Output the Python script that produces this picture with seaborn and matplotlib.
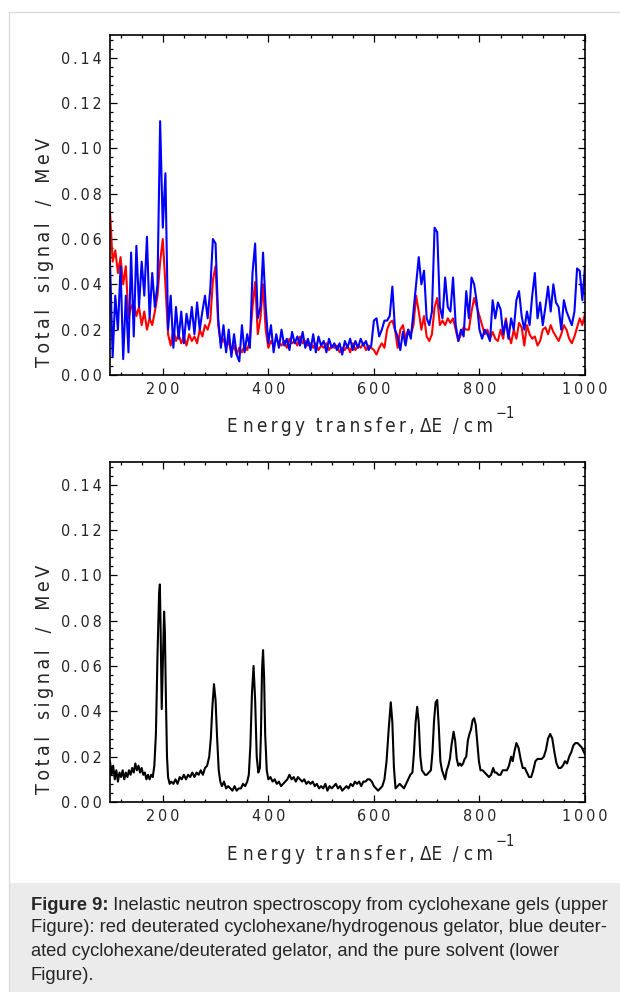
import matplotlib
matplotlib.use("Agg")
import matplotlib.pyplot as plt
import matplotlib.font_manager as fm
from matplotlib.ticker import MultipleLocator, FixedLocator
import seaborn as sns
import pandas as pd

# ---------------- data ----------------
top_x = list(range(100, 1001, 5))
red_y = [
    0.072, 0.050, 0.055, 0.045, 0.052, 0.040, 0.048, 0.025, 0.030, 0.032,
    0.026, 0.030, 0.022, 0.028, 0.020, 0.025, 0.022, 0.028, 0.035, 0.050,
    0.060, 0.040, 0.018, 0.013, 0.020, 0.015, 0.018, 0.014, 0.017, 0.013,
    0.018, 0.015, 0.017, 0.014, 0.020, 0.017, 0.022, 0.020, 0.024, 0.042,
    0.048, 0.022, 0.014, 0.016, 0.012, 0.015, 0.010, 0.013, 0.009, 0.012,
    0.010, 0.013, 0.011, 0.015, 0.030, 0.041, 0.018, 0.025, 0.040, 0.020,
    0.012, 0.015, 0.013, 0.016, 0.014, 0.013, 0.015, 0.012, 0.016, 0.014,
    0.015, 0.013, 0.017, 0.014, 0.015, 0.013, 0.014, 0.012, 0.014, 0.011,
    0.013, 0.012, 0.014, 0.011, 0.013, 0.012, 0.013, 0.010, 0.012, 0.011,
    0.013, 0.010, 0.014, 0.011, 0.013, 0.012, 0.014, 0.011, 0.013, 0.012,
    0.011, 0.009, 0.012, 0.014, 0.012, 0.020, 0.023, 0.024, 0.020, 0.012,
    0.020, 0.022, 0.016, 0.020, 0.018, 0.022, 0.035, 0.028, 0.020, 0.026,
    0.017, 0.015, 0.018, 0.030, 0.034, 0.022, 0.024, 0.022, 0.025, 0.023,
    0.025, 0.020, 0.015, 0.018, 0.021, 0.020, 0.020, 0.028, 0.034, 0.030,
    0.026, 0.022, 0.018, 0.020, 0.016, 0.019, 0.016, 0.015, 0.020, 0.016,
    0.025, 0.018, 0.014, 0.020, 0.016, 0.023, 0.021, 0.013, 0.022, 0.018,
    0.016, 0.017, 0.013, 0.015, 0.020, 0.021, 0.018, 0.022, 0.019, 0.017,
    0.015, 0.018, 0.022, 0.020, 0.016, 0.014, 0.017, 0.021, 0.025, 0.022,
    0.027,
]
blue_y = [
    0.050, 0.008, 0.035, 0.020, 0.048, 0.007, 0.035, 0.010, 0.054, 0.017,
    0.057, 0.030, 0.050, 0.035, 0.061, 0.025, 0.045, 0.030, 0.040, 0.112,
    0.065, 0.089, 0.020, 0.035, 0.012, 0.030, 0.016, 0.028, 0.014, 0.027,
    0.020, 0.030, 0.018, 0.032, 0.020, 0.028, 0.035, 0.025, 0.038, 0.060,
    0.058, 0.025, 0.012, 0.022, 0.010, 0.020, 0.008, 0.018, 0.009, 0.006,
    0.022, 0.010, 0.018, 0.012, 0.045, 0.058, 0.025, 0.030, 0.054, 0.030,
    0.014, 0.022, 0.010, 0.018, 0.012, 0.020, 0.013, 0.016, 0.011, 0.019,
    0.014, 0.017, 0.013, 0.019, 0.012, 0.016, 0.011, 0.018, 0.010, 0.017,
    0.013, 0.015, 0.010, 0.016, 0.012, 0.014, 0.011, 0.014, 0.009, 0.015,
    0.012, 0.016, 0.011, 0.015, 0.012, 0.016, 0.013, 0.015, 0.011, 0.013,
    0.024, 0.025, 0.017, 0.020, 0.024, 0.024, 0.026, 0.039, 0.020, 0.017,
    0.011, 0.019, 0.013, 0.020, 0.016, 0.028, 0.040, 0.052, 0.040, 0.046,
    0.025, 0.022, 0.028, 0.065, 0.063, 0.030, 0.025, 0.043, 0.030, 0.028,
    0.043, 0.022, 0.015, 0.020, 0.017, 0.037, 0.025, 0.043, 0.040, 0.032,
    0.020, 0.016, 0.020, 0.018, 0.015, 0.033, 0.025, 0.032, 0.029, 0.018,
    0.024, 0.016, 0.025, 0.020, 0.033, 0.037, 0.026, 0.020, 0.028, 0.022,
    0.035, 0.045, 0.025, 0.032, 0.022, 0.030, 0.039, 0.028, 0.040, 0.032,
    0.030, 0.020, 0.033, 0.028, 0.025, 0.022, 0.028, 0.047, 0.046, 0.033,
    0.048,
]

solvent_x = [
    100, 103, 106, 109, 112, 115, 118, 121, 124, 127, 130, 133, 136, 139, 142,
    145, 148, 151, 154, 157, 160, 163, 166, 169, 172, 175, 178, 181, 184, 187,
    190, 193, 194.5, 196, 198, 200, 202.5, 204, 206, 208, 210, 213, 216, 220,
    224, 228, 232, 236, 240, 244, 248, 252, 256, 260, 264, 268, 272, 276, 280,
    284, 288, 291, 294, 297, 300, 303, 306, 309, 312, 316, 320, 324, 328, 332,
    336, 340, 344, 348, 352, 356, 360, 363, 366, 369, 372, 375, 378, 381, 384,
    386, 388, 390, 392, 394, 397, 400, 404, 408, 412, 416, 420, 424, 428, 432,
    436, 440, 444, 448, 452, 456, 460, 464, 468, 472, 476, 480, 484, 488, 492,
    496, 500, 504, 508, 512, 516, 520, 524, 528, 532, 536, 540, 544, 548, 552,
    556, 560, 564, 568, 572, 576, 580, 584, 588, 592, 596, 600, 604, 608, 612,
    616, 620, 624, 628, 632, 635, 638, 641, 645, 649, 653, 657, 661, 665, 669,
    673, 676, 679, 682, 685, 688, 691, 694, 697, 700, 704, 708, 711, 714, 717,
    720, 723, 726, 729, 732, 735, 738, 741, 744, 747, 751, 754, 757, 760, 763,
    766, 769, 772, 775, 778, 781, 784, 787, 790, 793, 796, 799, 802, 806, 810,
    814, 818, 822, 826, 829, 832, 836, 840, 844, 848, 852, 856, 860, 863, 866,
    870, 874, 878, 882, 886, 890, 894, 898, 902, 906, 910, 914, 918, 922, 926,
    930, 934, 938, 942, 946, 950, 954, 958, 962, 966, 970, 974, 978, 982, 986,
    990, 994, 998, 1000,
]
solvent_y = [
    0.018, 0.012, 0.016, 0.010, 0.014, 0.009, 0.013, 0.011, 0.014, 0.010, 0.013,
    0.011, 0.014, 0.012, 0.015, 0.013, 0.017, 0.014, 0.016, 0.013, 0.015, 0.012,
    0.013, 0.010, 0.012, 0.010, 0.012, 0.011, 0.016, 0.030, 0.065, 0.092, 0.096,
    0.075, 0.041, 0.060, 0.084, 0.075, 0.045, 0.020, 0.011, 0.008, 0.009, 0.008,
    0.010, 0.008, 0.011, 0.010, 0.012, 0.010, 0.012, 0.011, 0.013, 0.011, 0.013,
    0.012, 0.014, 0.012, 0.015, 0.016, 0.020, 0.028, 0.042, 0.052, 0.045, 0.028,
    0.014, 0.009, 0.007, 0.009, 0.006, 0.007, 0.006, 0.005, 0.007, 0.005, 0.006,
    0.006, 0.008, 0.007, 0.009, 0.012, 0.025, 0.048, 0.060, 0.045, 0.020, 0.013,
    0.015, 0.030, 0.058, 0.067, 0.055, 0.030, 0.014, 0.010, 0.011, 0.009, 0.010,
    0.008, 0.009, 0.007, 0.008, 0.009, 0.010, 0.012, 0.010, 0.011, 0.009, 0.011,
    0.010, 0.009, 0.010, 0.008, 0.009, 0.008, 0.009, 0.007, 0.008, 0.006, 0.007,
    0.006, 0.008, 0.005, 0.007, 0.006, 0.007, 0.008, 0.006, 0.007, 0.005, 0.006,
    0.007, 0.006, 0.008, 0.007, 0.009, 0.008, 0.009, 0.007, 0.009, 0.009, 0.010,
    0.010, 0.009, 0.007, 0.006, 0.005, 0.006, 0.007, 0.010, 0.018, 0.032, 0.044,
    0.035, 0.015, 0.006, 0.007, 0.008, 0.007, 0.006, 0.008, 0.010, 0.012, 0.013,
    0.022, 0.035, 0.042, 0.035, 0.020, 0.014, 0.013, 0.012, 0.012, 0.013, 0.014,
    0.022, 0.036, 0.044, 0.045, 0.033, 0.018, 0.014, 0.012, 0.010, 0.014, 0.016,
    0.019, 0.025, 0.031, 0.027, 0.019, 0.016, 0.017, 0.016, 0.017, 0.019, 0.020,
    0.027, 0.030, 0.032, 0.036, 0.037, 0.034, 0.026, 0.018, 0.014, 0.014, 0.013,
    0.012, 0.011, 0.012, 0.015, 0.013, 0.013, 0.012, 0.012, 0.014, 0.014, 0.014,
    0.016, 0.020, 0.018, 0.022, 0.026, 0.024, 0.019, 0.015, 0.015, 0.013, 0.011,
    0.011, 0.014, 0.018, 0.019, 0.019, 0.019, 0.020, 0.023, 0.028, 0.030, 0.028,
    0.022, 0.017, 0.015, 0.015, 0.016, 0.018, 0.017, 0.020, 0.022, 0.025, 0.026,
    0.026, 0.025, 0.024, 0.022, 0.021,
]

y_ticks = [0.00, 0.02, 0.04, 0.06, 0.08, 0.10, 0.12, 0.14]
x_ticks = [200, 400, 600, 800, 1000]
y_label_words = ["Total", "signal", "/", "MeV"]
x_label_words = ["nergy", "transfer,"]
caption_bold = "Figure 9:"
caption_lines = [
    " Inelastic neutron spectroscopy from cyclohexane gels (upper",
    "Figure): red deuterated cyclohexane/hydrogenous gelator, blue deuter-",
    "ated cyclohexane/deuterated gelator, and the pure solvent (lower",
    "Figure).",
]

# ---------------- style ----------------
sns.set_style("ticks")
names = {f.name for f in fm.fontManager.ttflist}
if "Liberation Sans Narrow" in names:
    AX_FONT = dict(family=["Liberation Sans Narrow", "DejaVu Sans"])
else:
    AX_FONT = dict(family=["DejaVu Sans"], stretch="condensed")
CAP_FAMILY = ["Liberation Sans", "DejaVu Sans"] if "Liberation Sans" in names else ["DejaVu Sans"]
plt.rcParams["font.family"] = ["DejaVu Sans"]

SP = "\u2009"


def spaced(s):
    return SP.join(list(s))


W, H = 620, 992
fig = plt.figure(figsize=(W / 100, H / 100), dpi=100)
fig.patch.set_facecolor("white")

# frame lines & caption box
fig.add_artist(plt.Line2D([9 / W, 1], [1 - 11.5 / H, 1 - 11.5 / H], color="#dddddd", lw=1.0))
fig.add_artist(plt.Line2D([9 / W, 9 / W], [0, 1 - 11.5 / H], color="#dddddd", lw=1.0))
fig.add_artist(plt.Rectangle((9.5 / W, 0), 1, (992 - 883) / H, facecolor="#ebebeb",
                             edgecolor="none", transform=fig.transFigure))


def px_axes(left, top, right, bottom):
    return fig.add_axes([left / W, 1 - bottom / H, (right - left) / W, (bottom - top) / H])


ax1 = px_axes(110, 35, 585, 375)
ax2 = px_axes(110, 462, 585, 802)

df_top = pd.DataFrame({"x": top_x, "red": red_y, "blue": blue_y})
df_bot = pd.DataFrame({"x": solvent_x, "y": solvent_y})

sns.lineplot(data=df_top, x="x", y="red", ax=ax1, color="#ff0000", lw=1.5,
             estimator=None, sort=False)
sns.lineplot(data=df_top, x="x", y="blue", ax=ax1, color="#0000ff", lw=1.5,
             estimator=None, sort=False)
sns.lineplot(data=df_bot, x="x", y="y", ax=ax2, color="black", lw=1.5,
             estimator=None, sort=False)

for ax in (ax1, ax2):
    ax.set_xlim(100, 1000)
    ax.set_ylim(0, 0.15)
    ax.xaxis.set_major_locator(FixedLocator(x_ticks))
    ax.xaxis.set_minor_locator(MultipleLocator(40))
    ax.yaxis.set_major_locator(FixedLocator(y_ticks))
    ax.yaxis.set_minor_locator(MultipleLocator(0.004))
    ax.tick_params(which="both", direction="in", top=True, right=True,
                   width=0.9, color="black")
    ax.tick_params(which="major", length=5)
    ax.tick_params(which="minor", length=2.5)
    ax.tick_params(axis="y", pad=6)
    ax.tick_params(axis="x", pad=5)
    ax.set_xticklabels([spaced(str(v)) for v in x_ticks], fontsize=11.5, **AX_FONT)
    ax.set_yticklabels([spaced(f"{v:.2f}") for v in y_ticks], fontsize=11.5, **AX_FONT)
    for s in ax.spines.values():
        s.set_linewidth(1.2)
        s.set_color("black")
        s.set_visible(True)
    ax.set_xlabel("")
    ax.set_ylabel("")

# axis labels
fig.canvas.draw()
renderer = fig.canvas.get_renderer()
ylab = "   ".join(spaced(w) for w in y_label_words)
xlab = "E " + spaced(x_label_words[0]) + "  " + spaced(x_label_words[1]) + " ΔE  / " + spaced("cm")
for top_px, bottom_px in ((35, 375), (462, 802)):
    fig.text(45 / W, 1 - (bottom_px - 123) / H, ylab,
             rotation=90, ha="center", va="center", fontsize=14, **AX_FONT)
    xl = fig.text(227 / W, 1 - (bottom_px + 52) / H, xlab,
                  ha="left", va="center", fontsize=13.5, **AX_FONT)
    bb = xl.get_window_extent(renderer)
    fig.text((bb.x1 + 3) / W, 1 - (bottom_px + 39) / H, "−1", ha="left", va="center",
             fontsize=10.5, **AX_FONT)

# caption
cap_x = 31 / W
base = [905, 928, 952, 975]
CAP_FS = 13.2
t = fig.text(cap_x, 1 - base[0] / H, caption_bold, fontsize=CAP_FS, fontweight="bold",
             family=CAP_FAMILY, va="center", ha="left")
bb = t.get_window_extent(renderer)
fig.text(bb.x1 / W, 1 - base[0] / H, caption_lines[0], fontsize=CAP_FS, family=CAP_FAMILY,
         va="center", ha="left")
for yy, line in zip(base[1:], caption_lines[1:]):
    fig.text(cap_x, 1 - yy / H, line, fontsize=CAP_FS, family=CAP_FAMILY, va="center", ha="left")

fig.savefig("out.png", dpi=100)
